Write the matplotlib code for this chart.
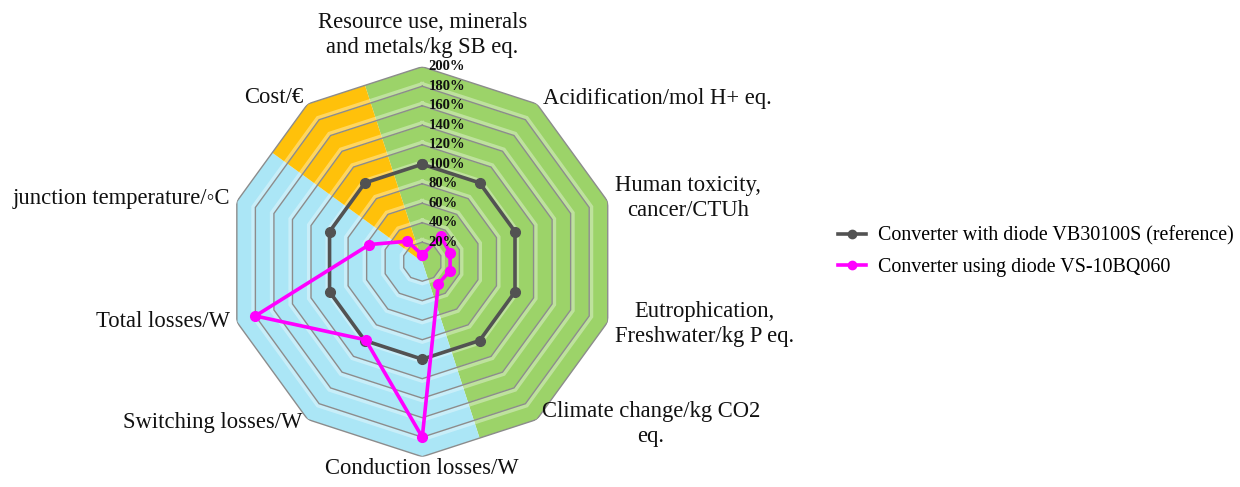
import numpy as np
import matplotlib
matplotlib.use("Agg")
import matplotlib.pyplot as plt
from matplotlib.lines import Line2D

# ---------------- data ----------------
categories = [
    "Resource use, minerals\nand metals/kg SB eq.",
    "Acidification/mol H+ eq.",
    "Human toxicity,\ncancer/CTUh",
    "Eutrophication,\nFreshwater/kg P eq.",
    "Climate change/kg CO2\neq.",
    "Conduction losses/W",
    "Switching losses/W",
    "Total losses/W",
    "junction temperature/\u25e6C",
    "Cost/\u20ac",
]
reference_values = [100, 100, 100, 100, 100, 100, 100, 100, 100, 100]
diode_values = [7, 32, 30, 30, 28, 180, 99, 180, 57, 26]
series_names = ["Converter with diode VB30100S (reference)",
                "Converter using diode VS-10BQ060"]
ring_values = [20, 40, 60, 80, 100, 120, 140, 160, 180, 200]
ring_labels = ["20%", "40%", "60%", "80%", "100%", "120%", "140%", "160%", "180%", "200%"]
# sector groups: (first category index, last category index)
sector_groups = [(0, 4), (5, 8), (9, 9)]

# ---------------- style ----------------
sector_colors = ["#9CD369", "#ABE6F6", "#FFC10A"]
grid_color = "#8C8C8C"
ref_color = "#525252"
new_color = "#FF00FF"
FONT = ["Liberation Serif", "DejaVu Serif"]
plt.rcParams["font.family"] = FONT

n = len(categories)
theta = np.arange(n) * 2 * np.pi / n
half = np.pi / n
rmax = ring_values[-1]

fig = plt.figure(figsize=(12.4, 4.87), dpi=100)
ax = fig.add_axes([0.1833, 0.0622, 0.3145, 0.8008], projection="polar")
ax.set_theta_zero_location("N")
ax.set_theta_direction(-1)
ax.set_ylim(0, rmax)
ax.set_xticks([])
ax.set_yticks([])
ax.grid(False)
ax.spines["polar"].set_visible(False)
ax.patch.set_alpha(0)

# sector fills clipped to the decagon
for (i0, i1), col in zip(sector_groups, sector_colors):
    th = [0.0, theta[i0] - half] + list(theta[i0:i1 + 1]) + [theta[i1] + half]
    rr = [0.0, rmax * np.cos(half)] + [rmax] * (i1 - i0 + 1) + [rmax * np.cos(half)]
    ax.fill(th, rr, color=col, lw=0, zorder=1)

# bevel highlight + polygonal grid rings
th_closed = np.append(theta, theta[0])
for rv in ring_values:
    if rv < rmax:
        ax.plot(th_closed, [rv + 2.0] * (n + 1), color="white", alpha=0.35, lw=3.2,
                zorder=2, solid_joinstyle="miter")
    ax.plot(th_closed, [rv] * (n + 1), color=grid_color, lw=1.0, zorder=3,
            solid_joinstyle="miter")

# series
ax.plot(th_closed, reference_values + reference_values[:1], color=ref_color, lw=2.6,
        marker="o", ms=7, zorder=5)
ax.plot(th_closed, diode_values + diode_values[:1], color=new_color, lw=2.6,
        marker="o", ms=7, zorder=6)

# ring labels on the top axis
for rv, lab in zip(ring_values, ring_labels):
    ax.annotate(lab, xy=(0, rv), xytext=(4.5, 0), textcoords="offset points",
                ha="left", va="center", fontsize=10.5, fontweight="bold",
                color="#111111", zorder=7, annotation_clip=False)

# category labels
label_pos = [
    (0, 233, "center", "center"),
    (36.4, 208.6, "left", "center"),
    (71.8, 208, "left", "center"),
    (107.8, 207.6, "left", "center"),
    (143.7, 207, "left", "center"),
    (180, 212.6, "center", "center"),
    (216.7, 206, "right", "center"),
    (252.6, 206.7, "right", "center"),
    (288.3, 207.8, "right", "center"),
    (324, 207.7, "right", "center"),
]
for lab, (deg, rr, ha, va) in zip(categories, label_pos):
    ax.text(np.deg2rad(deg), rr, lab, ha=ha, va=va, multialignment="center",
            fontsize=16.3, color="#111111", clip_on=False, linespacing=1.25)

handles = [
    Line2D([], [], color=ref_color, lw=2.6, marker="o", ms=6),
    Line2D([], [], color=new_color, lw=2.6, marker="o", ms=6),
]
fig.legend(handles, series_names, loc="center left",
           bbox_to_anchor=(838 / 1240, 1 - 251.5 / 487), frameon=False,
           fontsize=14.4, handlelength=1.4, handletextpad=0.6, labelspacing=0.6,
           borderpad=0, borderaxespad=0)

fig.savefig("out.png", dpi=100)
